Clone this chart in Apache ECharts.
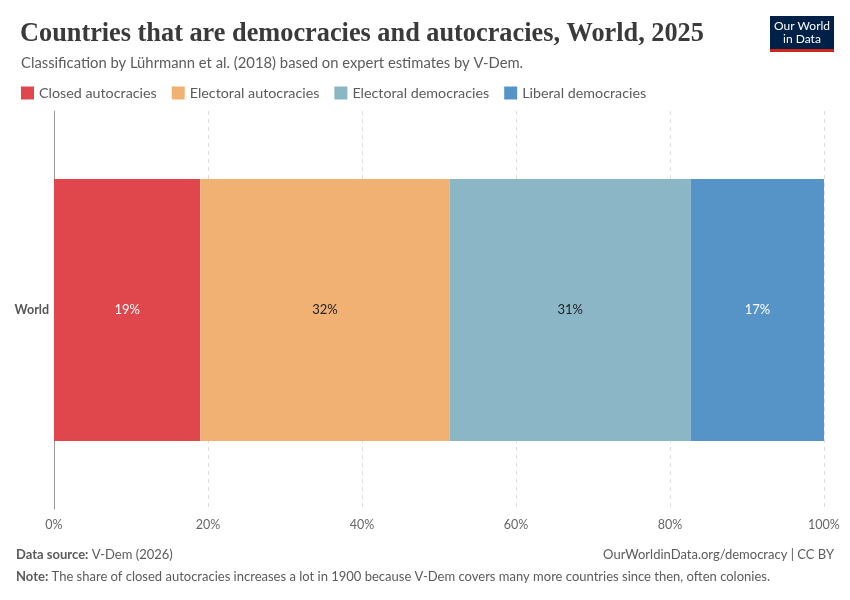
<!DOCTYPE html>
<html>
<head>
<meta charset="utf-8">
<script src="https://cdn.jsdelivr.net/npm/echarts@6/dist/echarts.min.js"></script>
<style>
  html, body { margin: 0; padding: 0; background: #fff; }
  #chart { width: 850px; height: 600px; }
</style>
</head>
<body>
<div id="chart"></div>
<script>
'use strict';

var categories = ['World'];
var seriesNames = ['Closed autocracies', 'Electoral autocracies', 'Electoral democracies', 'Liberal democracies'];
var seriesColors = ['#e0474c', '#f0b173', '#8ab6c5', '#5694c7'];
var labelColors = ['#ffffff', '#222222', '#222222', '#ffffff'];
var closedAutocracies = [19.0];
var electoralAutocracies = [32.4];
var electoralDemocracies = [31.3];
var liberalDemocracies = [17.3];
var xTicks = [0, 20, 40, 60, 80, 100];

var seriesValues = [closedAutocracies, electoralAutocracies, electoralDemocracies, liberalDemocracies];

var chart = echarts.init(document.getElementById('chart'), null, { renderer: 'canvas' });

var sans = 'Lato, "Noto Sans", sans-serif';

var series = seriesNames.map(function (name, i) {
    return {
        name: name,
        type: 'bar',
        stack: 'total',
        barWidth: 262,
        itemStyle: { color: seriesColors[i] },
        emphasis: { disabled: true },
        label: {
            show: true,
            position: 'inside',
            color: labelColors[i],
            fontFamily: sans,
            fontSize: 13,
            formatter: function (p) { return Math.round(p.value) + '%'; }
        },
        data: seriesValues[i]
    };
});

var option = {
    animation: false,
    title: [
        {
            text: 'Countries that are democracies and autocracies, World, 2025',
            left: 15, top: 16,
            textStyle: { fontFamily: '"Liberation Serif", serif', fontSize: 26.3, fontWeight: 'bold', color: '#3a3a3a' }
        },
        {
            text: 'Classification by Lührmann et al. (2018) based on expert estimates by V-Dem.',
            left: 16, top: 51,
            textStyle: { fontFamily: sans, fontSize: 14.8, fontWeight: 'normal', color: '#5b5b5b' }
        }
    ],
    legend: {
        left: 16, top: 81,
        itemWidth: 13, itemHeight: 13, itemGap: 15,
        icon: 'rect',
        textStyle: { fontFamily: sans, fontSize: 14.3, color: '#5b5b5b' },
        selectedMode: false,
        data: seriesNames
    },
    grid: { left: 54, right: 26, top: 111, bottom: 91, containLabel: false },
    xAxis: {
        type: 'value',
        min: 0, max: 100, interval: 20,
        axisLine: { show: false },
        axisTick: { show: false },
        splitLine: { show: true, lineStyle: { color: '#dddddd', type: [4, 4], width: 1 } },
        axisLabel: {
            fontFamily: sans, fontSize: 12.5, color: '#666666', margin: 9,
            formatter: function (v) { return xTicks.indexOf(v) >= 0 ? v + '%' : ''; }
        }
    },
    yAxis: {
        type: 'category',
        data: categories,
        axisLine: { show: true, lineStyle: { color: '#999999', width: 1 } },
        axisTick: { show: false },
        axisLabel: { fontFamily: sans, fontSize: 12.5, fontWeight: 'bold', color: '#555555', margin: 5 }
    },
    series: series,
    graphic: [
        // logo
        { type: 'rect', x: 770, y: 16, shape: { width: 64, height: 33 }, style: { fill: '#002147' } },
        { type: 'rect', x: 770, y: 49, shape: { width: 64, height: 3 }, style: { fill: '#ce261e' } },
        {
            type: 'text', x: 802, y: 20,
            style: { text: 'Our World\nin Data', fill: '#ffffff', font: '12px ' + sans, align: 'center', lineHeight: 13 }
        },
        // footer
        {
            type: 'text', left: 16, top: 548,
            style: { rich: { b: { fontWeight: 'bold', fill: '#5b5b5b', fontFamily: sans, fontSize: 13 }, n: { fill: '#5b5b5b', fontFamily: sans, fontSize: 13 } },
                text: '{b|Data source:} {n|V-Dem (2026)}' }
        },
        {
            type: 'text', right: 16, top: 548,
            style: { text: 'OurWorldinData.org/democracy | CC BY', fill: '#5b5b5b', font: '13px ' + sans }
        },
        {
            type: 'text', left: 16, top: 570,
            style: { rich: { b: { fontWeight: 'bold', fill: '#5b5b5b', fontFamily: sans, fontSize: 13 }, n: { fill: '#5b5b5b', fontFamily: sans, fontSize: 13 } },
                text: '{b|Note:} {n|The share of closed autocracies increases a lot in 1900 because V-Dem covers many more countries since then, often colonies.}' }
        }
    ]
};

chart.setOption(option);
</script>
</body>
</html>
